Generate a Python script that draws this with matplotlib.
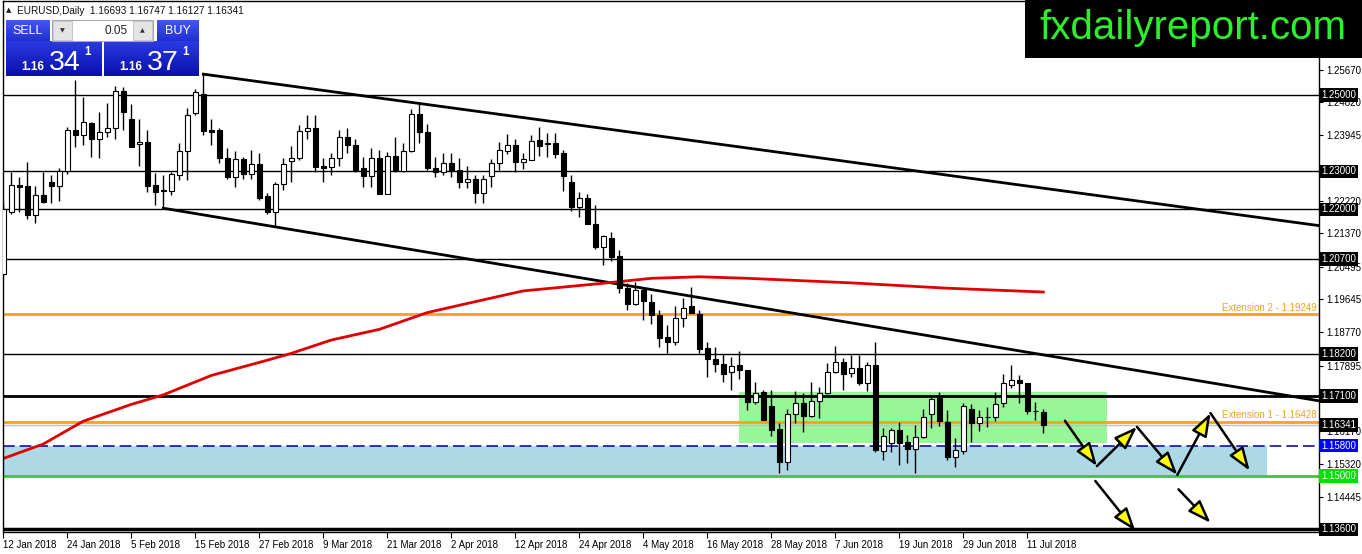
import numpy as np
import pandas as pd
import matplotlib
matplotlib.use('Agg')
import matplotlib.pyplot as plt
from matplotlib.patches import Rectangle
from matplotlib.colors import LinearSegmentedColormap

plt.rcParams['font.family'] = ['Liberation Sans', 'DejaVu Sans']

# ---------------------------------------------------------------
# data: EURUSD daily, 12 Jan 2018 .. 13 Jul 2018
# ---------------------------------------------------------------
dates = pd.bdate_range('2018-01-12', '2018-07-13')

opens = [1.2030, 1.2194, 1.2263, 1.2261, 1.2184, 1.2238, 1.2272, 1.2262, 1.2300, 1.2408,
         1.2394, 1.2426, 1.2384, 1.2402, 1.2413, 1.2510, 1.2436, 1.2371, 1.2377, 1.2263,
         1.2250, 1.2249, 1.2289, 1.2353, 1.2452, 1.2504, 1.2408, 1.2408, 1.2336, 1.2284,
         1.2332, 1.2294, 1.2319, 1.2235, 1.2192, 1.2266, 1.2326, 1.2335, 1.2405, 1.2413,
         1.2314, 1.2312, 1.2334, 1.2389, 1.2369, 1.2308, 1.2288, 1.2336, 1.2240, 1.2340,
         1.2301, 1.2353, 1.2450, 1.2402, 1.2308, 1.2299, 1.2322, 1.2303, 1.2271, 1.2279,
         1.2242, 1.2287, 1.2321, 1.2354, 1.2368, 1.2325, 1.2329, 1.2382, 1.2373, 1.2375,
         1.2347, 1.2273, 1.2207, 1.2231, 1.2161, 1.2102, 1.2125, 1.2077, 1.1994, 1.1951,
         1.1988, 1.1956, 1.1923, 1.1864, 1.1851, 1.1914, 1.1947, 1.1924, 1.1835, 1.1807,
         1.1793, 1.1772, 1.1791, 1.1778, 1.1693, 1.1720, 1.1684, 1.1623, 1.1536, 1.1662,
         1.1691, 1.1658, 1.1697, 1.1717, 1.1772, 1.1798, 1.1771, 1.1783, 1.1743, 1.1791,
         1.1566, 1.1587, 1.1621, 1.1589, 1.1570, 1.1602, 1.1664, 1.1704, 1.1642, 1.1551,
         1.1565, 1.1675, 1.1638, 1.1656, 1.1654, 1.1691, 1.1740, 1.1751, 1.1743, 1.1671,
         1.16693]
highs = [1.2218, 1.2297, 1.2286, 1.2324, 1.2261, 1.2297, 1.2290, 1.2308, 1.2417, 1.2539,
         1.2496, 1.2429, 1.2456, 1.2478, 1.2525, 1.2522, 1.2476, 1.2436, 1.2408, 1.2296,
         1.2289, 1.2297, 1.2373, 1.2465, 1.2515, 1.2555, 1.2436, 1.2413, 1.2360, 1.2354,
         1.2338, 1.2356, 1.2347, 1.2244, 1.2272, 1.2335, 1.2366, 1.2421, 1.2448, 1.2448,
         1.2334, 1.2347, 1.2408, 1.2413, 1.2386, 1.2338, 1.2360, 1.2356, 1.2351, 1.2391,
         1.2375, 1.2463, 1.2478, 1.2424, 1.2338, 1.2347, 1.2347, 1.2336, 1.2314, 1.2290,
         1.2290, 1.2331, 1.2377, 1.2398, 1.2386, 1.2349, 1.2395, 1.2417, 1.2401, 1.2401,
         1.2356, 1.2290, 1.2245, 1.2240, 1.2211, 1.2134, 1.2140, 1.2093, 1.2007, 1.2010,
         1.1994, 1.1978, 1.1937, 1.1896, 1.1947, 1.1966, 1.1997, 1.1937, 1.1852, 1.1838,
         1.1819, 1.1813, 1.1829, 1.1778, 1.1747, 1.1726, 1.1727, 1.1638, 1.1675, 1.1724,
         1.1717, 1.1746, 1.1733, 1.1796, 1.1842, 1.1809, 1.1818, 1.1818, 1.1800, 1.1851,
         1.1625, 1.1625, 1.1641, 1.1608, 1.1634, 1.1675, 1.1708, 1.1720, 1.1673, 1.1599,
         1.1692, 1.1689, 1.1673, 1.1682, 1.1720, 1.1768, 1.1791, 1.1765, 1.1743, 1.1695,
         1.16747]
lows = [1.2025, 1.2189, 1.2194, 1.2176, 1.2163, 1.2216, 1.2216, 1.2222, 1.2294, 1.2364,
        1.2369, 1.2338, 1.2335, 1.2389, 1.2384, 1.2408, 1.2364, 1.2314, 1.2246, 1.2211,
        1.2203, 1.2238, 1.2277, 1.2277, 1.2449, 1.2394, 1.2369, 1.2321, 1.2280, 1.2259,
        1.2280, 1.2280, 1.2224, 1.2188, 1.2154, 1.2251, 1.2271, 1.2329, 1.2385, 1.2299,
        1.2272, 1.2290, 1.2314, 1.2349, 1.2299, 1.2259, 1.2258, 1.2240, 1.2240, 1.2299,
        1.2299, 1.2351, 1.2373, 1.2303, 1.2284, 1.2290, 1.2284, 1.2255, 1.2255, 1.2217,
        1.2216, 1.2259, 1.2303, 1.2345, 1.2299, 1.2306, 1.2329, 1.2340, 1.2338, 1.2334,
        1.2249, 1.2196, 1.2181, 1.2161, 1.2095, 1.2054, 1.2065, 1.1981, 1.1937, 1.1949,
        1.1909, 1.1898, 1.1838, 1.1822, 1.1844, 1.1890, 1.1927, 1.1822, 1.1761, 1.1774,
        1.1747, 1.1727, 1.1754, 1.1673, 1.1689, 1.1647, 1.1605, 1.1509, 1.1516, 1.1640,
        1.1616, 1.1654, 1.1651, 1.1715, 1.1771, 1.1726, 1.1761, 1.1739, 1.1722, 1.1562,
        1.1542, 1.1564, 1.1529, 1.1535, 1.1507, 1.1599, 1.1625, 1.1632, 1.1542, 1.1524,
        1.1557, 1.1590, 1.1618, 1.1629, 1.1644, 1.1680, 1.1730, 1.1691, 1.1663, 1.1647,
        1.16127]
closes = [1.2200, 1.2263, 1.2259, 1.2184, 1.2238, 1.2220, 1.2262, 1.2300, 1.2408, 1.2394,
          1.2429, 1.2384, 1.2403, 1.2413, 1.2510, 1.2455, 1.2364, 1.2377, 1.2262, 1.2246,
          1.2248, 1.2292, 1.2353, 1.2449, 1.2507, 1.2407, 1.2404, 1.2335, 1.2284, 1.2332,
          1.2294, 1.2318, 1.2231, 1.2192, 1.2266, 1.2318, 1.2334, 1.2405, 1.2413, 1.2312,
          1.2308, 1.2334, 1.2389, 1.2368, 1.2303, 1.2288, 1.2336, 1.2240, 1.2340, 1.2303,
          1.2353, 1.2450, 1.2402, 1.2308, 1.2299, 1.2323, 1.2303, 1.2271, 1.2279, 1.2242,
          1.2281, 1.2321, 1.2356, 1.2368, 1.2325, 1.2332, 1.2379, 1.2367, 1.2371, 1.2345,
          1.2288, 1.2207, 1.2231, 1.2161, 1.2100, 1.2131, 1.2076, 1.1994, 1.1951, 1.1988,
          1.1959, 1.1923, 1.1863, 1.1851, 1.1916, 1.1940, 1.1929, 1.1833, 1.1806, 1.1793,
          1.1769, 1.1790, 1.1778, 1.1695, 1.1717, 1.1647, 1.1622, 1.1537, 1.1662, 1.1691,
          1.1658, 1.1697, 1.1717, 1.1772, 1.1798, 1.1767, 1.1783, 1.1743, 1.1791, 1.1568,
          1.1605, 1.1621, 1.1587, 1.1572, 1.1602, 1.1654, 1.1701, 1.1644, 1.1551, 1.1568,
          1.1685, 1.1638, 1.1656, 1.1654, 1.1688, 1.1743, 1.1751, 1.1743, 1.1671, 1.1670,
          1.16341]

# moving average, sampled along the red line (bar index, price)
ma_bars = [0, 5, 10, 16, 20, 26, 33, 36, 41, 47, 53, 58, 65, 75, 81, 87, 93, 106, 118, 130]
ma_vals = [1.1546, 1.1584, 1.1644, 1.1688, 1.1713, 1.1764, 1.1804, 1.1822, 1.1857, 1.1885,
           1.1929, 1.1953, 1.1986, 1.2006, 1.2019, 1.2023, 1.2019, 1.2007, 1.1993, 1.1983]

bid, ask = 1.16341, 1.16371

# horizontal levels
thin_levels = [1.25000, 1.23000, 1.22000, 1.20700, 1.18200]
bold_levels = [1.17100, 1.13600]
ext_levels = [1.19249, 1.16428]
ext_names = ['Extension 2', 'Extension 1']
pivot_level = 1.15800
support_level = 1.15000

# trend channel anchors (bar, price)
upper_anchor = [(25, 1.2555), (52, 1.2478)]
lower_anchor = [(20, 1.2203), (34, 1.2154)]

# zones (start bar, end bar, low, high)
green_zone = (92, 138, 1.1587, 1.1720)
blue_zone = (-2, 158, 1.1500, 1.1580)

# projected path arrows (bar, price)
zigzag = [(132.7, 1.1645), (136.7, 1.1526), (141.7, 1.1629),
          (146.75, 1.1503), (150.9, 1.1665), (155.8, 1.1514)]
extra_arrows = [((136.5, 1.1487), (141.5, 1.1356)),
                ((146.9, 1.1465), (150.9, 1.1377))]

# price scale
price_ticks = [1.25670, 1.24820, 1.23945, 1.22220, 1.21370, 1.20495, 1.19645,
               1.18770, 1.17895, 1.16170, 1.15320, 1.14445]

# ---------------------------------------------------------------
W, H = 1362, 554
fig = plt.figure(figsize=(W / 100, H / 100), dpi=100)
ax = fig.add_axes([3 / W, (H - 532) / H, (1319 - 3) / W, (532 - 1) / H])
ax.set_xlim(-0.04, 164.46)
ax.set_ylim(1.1353, 1.2747)

idx = np.arange(len(opens))
o = np.array(opens); h = np.array(highs); l = np.array(lows); c = np.array(closes)

# zones
for (x0, x1, lo, hi), col in [(blue_zone, '#add8e6'), (green_zone, '#98f598')]:
    ax.add_patch(Rectangle((x0, lo), x1 - x0, hi - lo, facecolor=col,
                           edgecolor='none', zorder=1))

# horizontal lines
for lv in thin_levels:
    ax.axhline(lv, color='black', lw=1, zorder=1.6)
ax.axhline(bold_levels[0], color='black', lw=2, zorder=1.6)
ax.axhline(bold_levels[1], color='black', lw=2.5, zorder=1.6)
ax.axhline(support_level, color='#32cd32', lw=2, zorder=1.6)
ax.axhline(pivot_level, color='#1010a0', lw=1.2, dashes=(7, 3), zorder=1.6)
ax.axhline(bid, color='#c0c0c0', lw=1, zorder=1.6)
for lv, nm in zip(ext_levels, ext_names):
    ax.axhline(lv, color='#f7a21b', lw=2, zorder=1.7)
    ax.text(0.998, lv + 0.0003, f'{nm} - {lv:.5f}', transform=ax.get_yaxis_transform(),
            ha='right', va='bottom', color='#f0a030', fontsize=7)

# channel lines (rays to the right)
x_end = ax.get_xlim()[1]
for (xa, ya), (xb, yb) in [upper_anchor, lower_anchor]:
    k = (yb - ya) / (xb - xa)
    ax.plot([xa, x_end], [ya, ya + k * (x_end - xa)], color='black', lw=2, zorder=2.2)

# moving average
ax.plot(ma_bars, ma_vals, color='#e00000', lw=2, zorder=2.4)

# candles
up = c > o
ax.vlines(idx, l, h, color='black', lw=1, zorder=3)
body_lo = np.minimum(o, c)
body_h = np.maximum(np.abs(c - o), 0.00004)
ax.bar(idx, body_h, bottom=body_lo, width=0.62,
       color=np.where(up, 'white', 'black'), edgecolor='black', lw=0.8, zorder=4)

# projection arrows
arrow_kw = dict(arrowstyle='-|>,head_length=1.4,head_width=0.5', fc='#ffff00',
                ec='black', lw=1.8, shrinkA=0, shrinkB=0)
segments = list(zip(zigzag[:-1], zigzag[1:])) + extra_arrows
for p0, p1 in segments:
    ax.annotate('', xy=p1, xytext=p0, arrowprops=arrow_kw, annotation_clip=False, zorder=6)

# axes styling
for sp in ax.spines.values():
    sp.set_linewidth(1)
ax.yaxis.tick_right()
ax.set_yticks(price_ticks)
ax.set_yticklabels([f'{v:.5f}' for v in price_ticks])
ax.tick_params(axis='y', direction='out', length=3, pad=2, labelsize=7)
xt = idx[::8]
ax.set_xticks(xt)
ax.set_xticklabels([f'{dates[i].day} {dates[i]:%b %Y}' for i in xt], ha='left')
ax.tick_params(axis='x', direction='out', length=4, pad=1.5, labelsize=7)

ytr = ax.get_yaxis_transform()
boxed = [(lv, 'black') for lv in thin_levels + bold_levels] + \
        [(bid, 'black'), (pivot_level, '#0000ff'), (support_level, '#00e000')]
for lv, bg in boxed:
    ax.text(1.0015, lv, f'{lv:.5f}', transform=ytr, ha='left', va='center',
            color='white', fontsize=7, zorder=8,
            bbox=dict(boxstyle='square,pad=0.18', fc=bg, ec='none'))

# ---------------------------------------------------------------
# overlay: one-click panel, header, logo (pixel coordinates)
ov = fig.add_axes([0, 0, 1, 1], zorder=5)
ov.patch.set_alpha(0)
ov.axis('off')

grad = np.linspace(0, 1, 64)[:, None]
cm_top = LinearSegmentedColormap.from_list('t', ['#4657f2', '#1f2fd2'])
cm_bot = LinearSegmentedColormap.from_list('b', ['#2a3ae6', '#0a0fa8'])
for x0, x1, y0, y1, cm in [(6, 50, 20, 41, cm_top), (157, 199, 20, 41, cm_top),
                           (6, 101.7, 41.7, 76, cm_bot), (104.3, 199, 41.7, 76, cm_bot)]:
    ov.imshow(grad, extent=[x0, x1, y1, y0], cmap=cm, aspect='auto', zorder=1)

ov.add_patch(Rectangle((52, 20), 101, 21, fc='white', ec='#a8a8a8', lw=0.8, zorder=2))
ov.add_patch(Rectangle((53, 21), 19, 19, fc='#e4e4e4', ec='#c0c0c0', lw=0.6, zorder=3))
ov.add_patch(Rectangle((133, 21), 19, 19, fc='#e4e4e4', ec='#c0c0c0', lw=0.6, zorder=3))
ov.text(62.5, 31, '▼', fontsize=4.5, ha='center', va='center', color='#333333', zorder=4,
        family=['DejaVu Sans'])
ov.text(142.5, 31, '▲', fontsize=4.5, ha='center', va='center', color='#333333', zorder=4,
        family=['DejaVu Sans'])
ov.text(128, 31, '0.05', fontsize=8.5, ha='right', va='center', color='#222222', zorder=4)
ov.text(28, 31, 'SELL', fontsize=9, ha='center', va='center', color='white', zorder=4)
ov.text(178, 31, 'BUY', fontsize=9, ha='center', va='center', color='white', zorder=4)

for price, xs in [(bid, (21.5, 49, 84)), (ask, (119, 146.5, 182))]:
    s = f'{price:.5f}'
    ov.text(xs[0], 70.5, s[:4], fontsize=8.5, fontweight='bold', color='white',
            ha='left', va='baseline', zorder=4)
    ov.text(xs[1], 70.5, s[4:6], fontsize=20.5, color='white', ha='left',
            va='baseline', zorder=4)
    ov.text(xs[2], 55, s[6], fontsize=8.3, fontweight='bold', color='white',
            ha='left', va='baseline', zorder=4)

ov.text(6, 10.5, '▲', fontsize=5, ha='left', va='center', color='#222222',
        family=['DejaVu Sans'])
ov.text(17, 10.5, f'EURUSD,Daily  {opens[-1]:.5f} {highs[-1]:.5f} {lows[-1]:.5f} {closes[-1]:.5f}',
        fontsize=7.2, ha='left', va='center', color='#111111')

ov.add_patch(Rectangle((1025, 0), 337, 58, fc='black', ec='none', zorder=6))
ov.text(1193, 28, 'fxdailyreport.com', fontsize=29, ha='center', va='center',
        color='#2cf02c', zorder=7)

ov.set_xlim(0, W)
ov.set_ylim(H, 0)

fig.savefig('out.png', dpi=100)
